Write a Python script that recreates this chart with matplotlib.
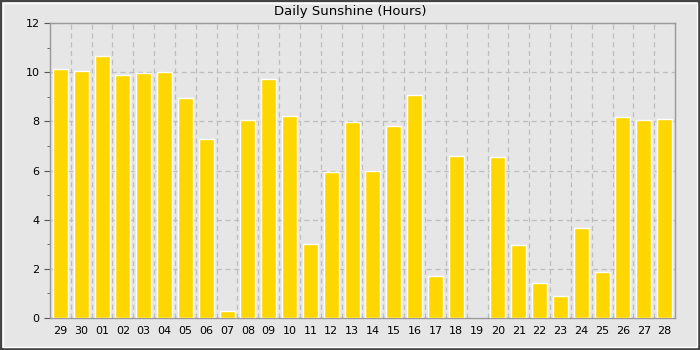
import matplotlib
matplotlib.use("Agg")
import matplotlib.pyplot as plt
from matplotlib.patches import Rectangle
from matplotlib.ticker import MultipleLocator

days = ["29", "30", "01", "02", "03", "04", "05", "06", "07", "08",
        "09", "10", "11", "12", "13", "14", "15", "16", "17", "18",
        "19", "20", "21", "22", "23", "24", "25", "26", "27", "28"]
sunshine = [10.13, 10.05, 10.66, 9.89, 9.97, 10.0, 8.95, 7.28, 0.28, 8.06,
            9.72, 8.22, 3.01, 5.94, 7.97, 5.98, 7.81, 9.07, 1.71, 6.59,
            0.0, 6.55, 2.97, 1.42, 0.9, 3.66, 1.87, 8.18, 8.06, 8.1]

bg = "#e6e6e6"
fig = plt.figure(figsize=(7, 3.5), dpi=100, facecolor=bg)
ax = fig.add_axes([0.0714, 0.0914, 0.8929, 0.8429], facecolor=bg)

x = list(range(len(days)))
ax.bar(x, sunshine, width=0.72, color="#ffd700", edgecolor="white", linewidth=1, zorder=3)

ax.set_xlim(-0.5, len(days) - 0.5)
ax.set_ylim(0, 12)
ax.yaxis.set_major_locator(MultipleLocator(2))
ax.yaxis.set_minor_locator(MultipleLocator(1))
ax.set_xticks(x)
ax.set_xticklabels(days)
ax.set_xticks([i + 0.5 for i in x[:-1]], minor=True)
ax.tick_params(axis="x", which="both", length=0, labelsize=8, pad=6)
ax.tick_params(axis="y", which="major", length=4, labelsize=8, color="#555555")
ax.tick_params(axis="y", which="minor", length=2, color="#555555")

ax.grid(True, axis="y", which="major", linestyle=(0, (4, 3)), color="#bdbdbd", linewidth=0.9, zorder=0)
ax.grid(True, axis="x", which="minor", linestyle=(0, (4, 3)), color="#bdbdbd", linewidth=0.9, zorder=0)

for s in ax.spines.values():
    s.set_color("#999999")
    s.set_linewidth(1)

fig.text(0.5, 0.968, "Daily Sunshine (Hours)", fontsize=9.5, ha="center", va="center")

# outer frame
fig.patches.append(Rectangle((0, 0), 1, 1, transform=fig.transFigure, fill=False,
                             edgecolor="#444444", linewidth=3))
fig.patches.append(Rectangle((0.004, 0.008), 0.992, 0.984, transform=fig.transFigure,
                             fill=False, edgecolor="white", linewidth=1))

fig.savefig("out.png", dpi=100, facecolor=bg)
